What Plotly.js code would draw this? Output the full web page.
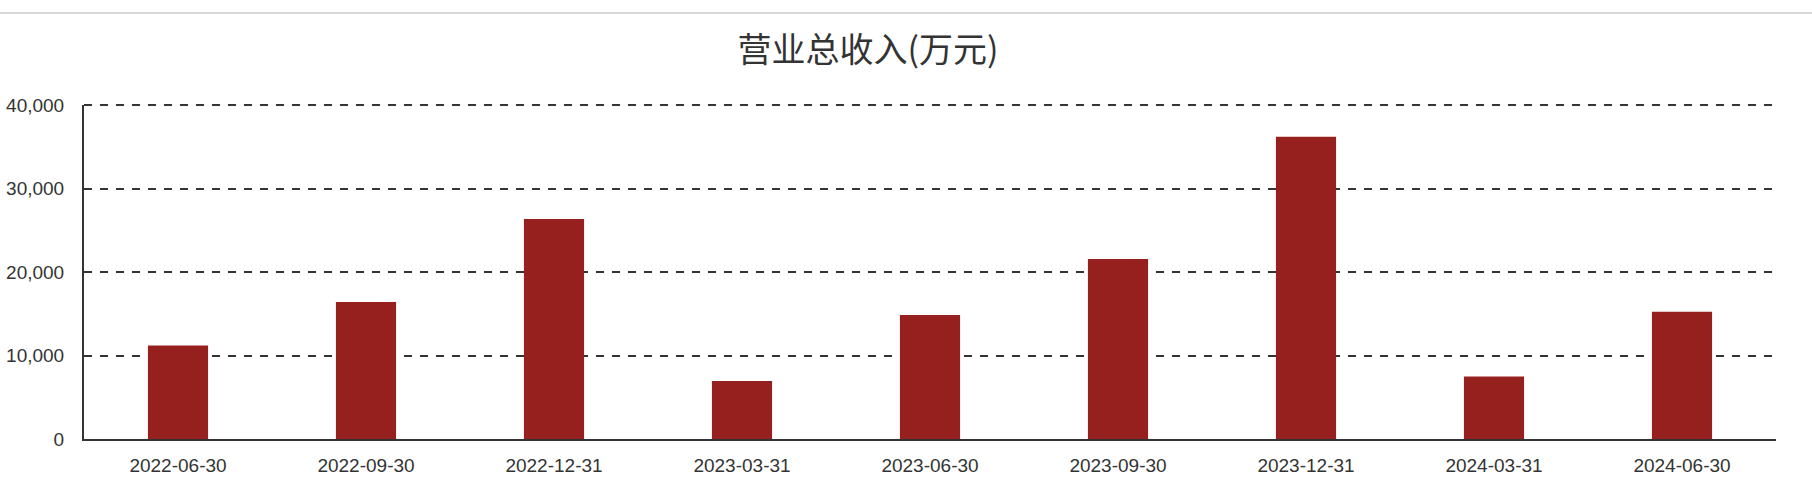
<!DOCTYPE html>
<html>
<head>
<meta charset="utf-8">
<script src="https://cdn.plot.ly/plotly-3.0.1.min.js"></script>
<style>
html,body{margin:0;padding:0;background:#fff;}
#chart{width:1812px;height:504px;}
</style>
</head>
<body>
<div id="chart"></div>
<script>
var categories = ["2022-06-30","2022-09-30","2022-12-31","2023-03-31","2023-06-30","2023-09-30","2023-12-31","2024-03-31","2024-06-30"];
var revenue = [11190, 16400, 26350, 6950, 14850, 21550, 36200, 7480, 15240];
var yTicks = [0, 10000, 20000, 30000, 40000];
var chartTitle = "营业总收入(万元)";

var trace = {
  type: "bar",
  x: categories,
  y: revenue,
  marker: {color: "#96201e", line: {width: 0}},
  hoverinfo: "x+y"
};

var gridStyle = {color: "#333", width: 2, dash: "8px,8px"};

var layout = {
  width: 1812,
  height: 504,
  margin: {l: 84, r: 36, t: 105, b: 65},
  paper_bgcolor: "#fff",
  plot_bgcolor: "#fff",
  bargap: 0.68,
  showlegend: false,
  title: {
    text: chartTitle,
    font: {family: "Noto Sans CJK SC, sans-serif", size: 34, color: "#333"},
    xref: "container", x: 868/1812, xanchor: "center",
    yref: "container", y: 1 - 50/504, yanchor: "middle"
  },
  xaxis: {
    type: "category",
    showgrid: false,
    showline: true,
    linecolor: "#333",
    linewidth: 2,
    ticks: "",
    ticklabelstandoff: 8,
    tickfont: {family: "Liberation Sans, Arial, sans-serif", size: 19, color: "#333"},
    zeroline: false
  },
  yaxis: {
    range: [0, yTicks[yTicks.length - 1]],
    tickvals: yTicks,
    tickformat: ",d",
    showgrid: true,
    gridcolor: gridStyle.color,
    gridwidth: gridStyle.width,
    griddash: gridStyle.dash,
    showline: true,
    linecolor: "#333",
    linewidth: 2,
    zeroline: false,
    ticks: "",
    ticklabelstandoff: 14,
    tickfont: {family: "Liberation Sans, Arial, sans-serif", size: 19, color: "#333"},
    layer: "below traces"
  },
  shapes: [{
    type: "line",
    xref: "paper", yref: "paper",
    x0: -84/1692, x1: 1 + 36/1692,
    y0: 1 + (105-13)/334, y1: 1 + (105-13)/334,
    line: {color: "#d8d8d8", width: 2}
  }, {
    type: "line",
    layer: "below",
    xref: "paper", yref: "paper",
    x0: 0, x1: 1,
    y0: 1, y1: 1,
    line: gridStyle
  }]
};

Plotly.newPlot("chart", [trace], layout, {displayModeBar: false, staticPlot: true});
</script>
</body>
</html>
